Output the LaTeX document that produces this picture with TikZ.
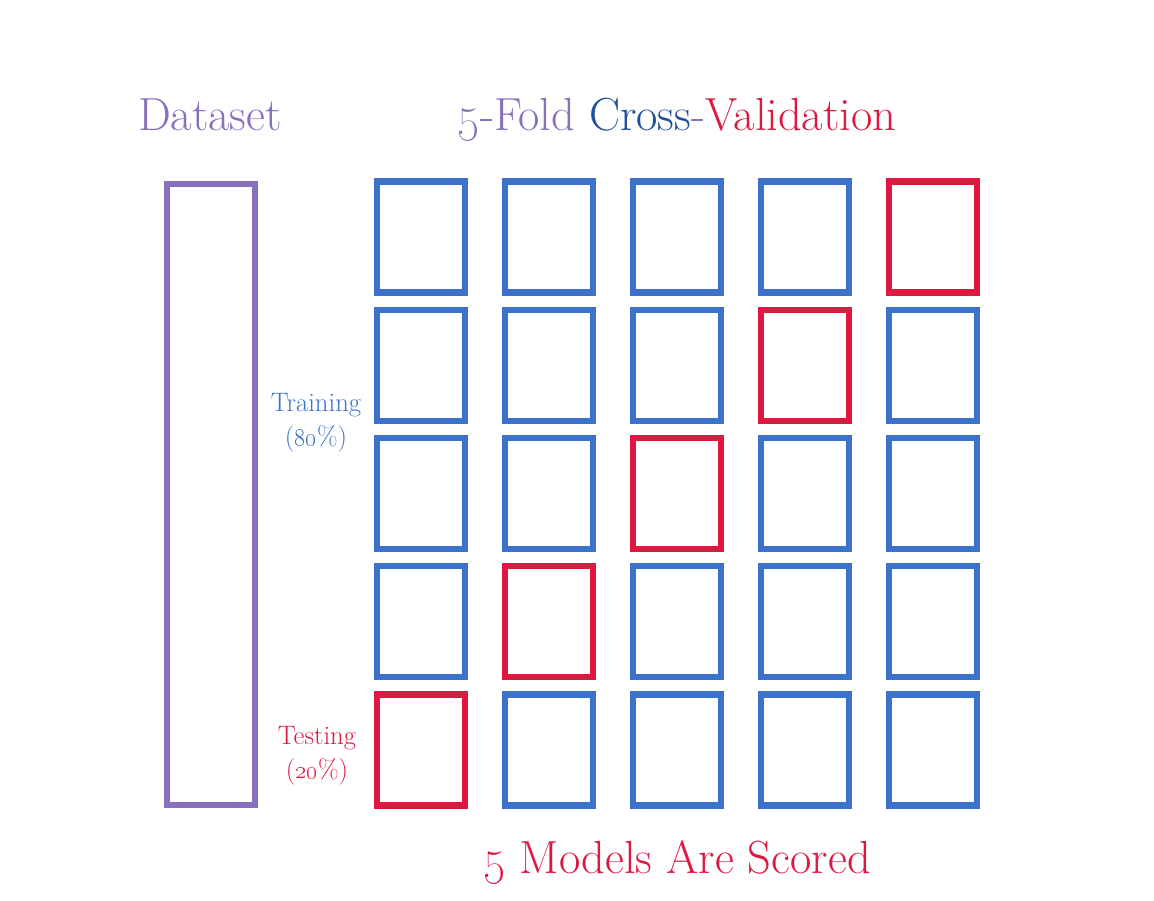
\documentclass[tikz,border=0pt]{standalone}
\definecolor{dsviolet}{RGB}{137,112,188}
\definecolor{trainblue}{RGB}{61,114,204}
\definecolor{crossblue}{RGB}{30,78,156}
\definecolor{testred}{RGB}{222,24,64}
\tikzset{
    fold/.style={rectangle,draw=trainblue,line width=0.16cm,minimum width=2.2cm,minimum height=2.775cm,inner sep=0pt},
    testfold/.style={fold,draw=testred},
    label/.style={anchor=base,inner sep=0pt,font=\fontsize{33}{38}\selectfont},
    sidelabel/.style={anchor=base,inner sep=0pt,align=center,font=\fontsize{19}{23.5}\selectfont}
}
\begin{document}
\begin{tikzpicture}[x=0.025cm,y=-0.025cm]
        \useasboundingbox (0,0) rectangle (1154,900);
        \node[label,text=dsviolet] (ds) at (210,130) {Dataset};
        \node[label] (title) at (677,130) {\textcolor{dsviolet}{\oldstylenums{5}-Fold} \textcolor{crossblue}{Cross}\textcolor{dsviolet}{-}\textcolor{testred}{Validation}};
        \node[rectangle,draw=dsviolet,line width=0.16cm,minimum width=2.2cm,minimum height=15.525cm] (data) at (211,494.5) {};
        \foreach \c in {1,...,5}
            \foreach \r in {1,...,5} {
                \pgfmathtruncatemacro{\t}{6-\c}
                \ifnum\r=\t
                    \node[testfold] (f\c\r) at (421+128*\c-128,237+128.25*\r-128.25) {};
                \else
                    \node[fold] (f\c\r) at (421+128*\c-128,237+128.25*\r-128.25) {};
                \fi
            }
        \node[sidelabel,text=trainblue] (train) at (316,445) {Training\\(\oldstylenums{80}\%)};
        \node[sidelabel,text=testred] (test) at (317,778) {Testing\\(\oldstylenums{20}\%)};
        \node[label,text=testred] (scored) at (677,873) {\oldstylenums{5} Models Are Scored};
\end{tikzpicture}
\end{document}
